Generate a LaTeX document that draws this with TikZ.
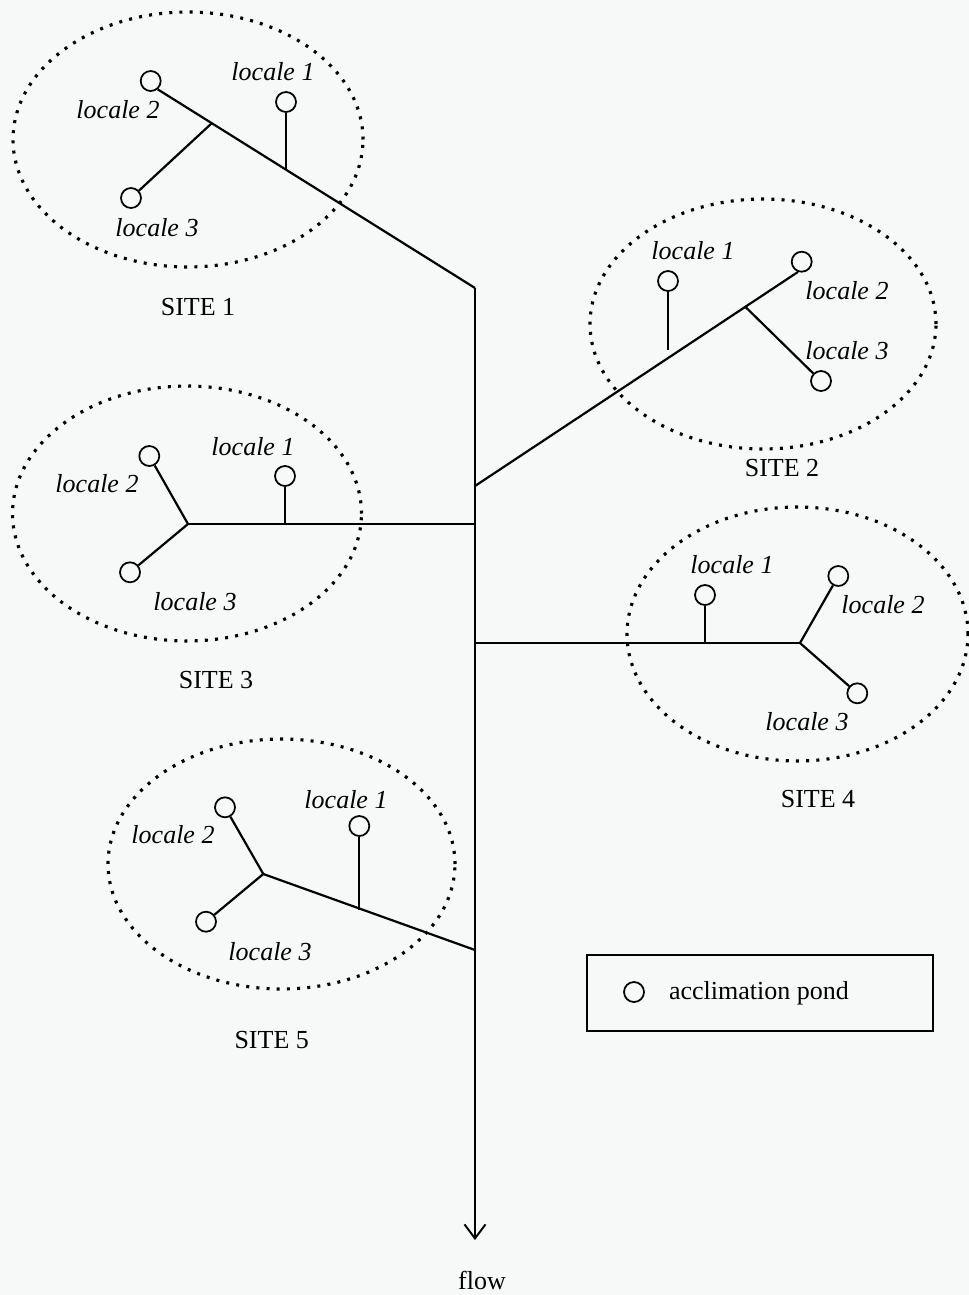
\documentclass[tikz,border=0pt]{standalone}
\usepackage{fontspec}
\setmainfont{Liberation Serif}
\usetikzlibrary{arrows.meta}
\definecolor{bgcol}{RGB}{247,249,248}
\begin{document}
\begin{tikzpicture}[x=0.02cm,y=-0.02cm,
  pipe/.style={line width=1.25pt},
  pond/.style={circle,draw,line width=1pt,minimum size=0.4cm,inner sep=0pt},
  loc/.style={font=\fontsize{14.8}{17}\selectfont\itshape,inner sep=0pt},
  sitelbl/.style={font=\fontsize{14.8}{17}\selectfont,inner sep=0pt},
  zone/.style={line width=1.8pt,dash pattern=on 1.7pt off 4.1pt}]
\fill[bgcol] (0,0) rectangle (969,1295);
\useasboundingbox (0,0) rectangle (969,1295);

% trunk
\coordinate (top) at (475,288);
\coordinate (j2) at (475,486);
\coordinate (j3) at (475,524);
\coordinate (j4) at (475,643);
\coordinate (j5) at (475,950);
\coordinate (tip) at (475,1240);
\draw[pipe,-{Straight Barb[length=8pt,width=12pt,line width=1.1pt]}] (top) -- (tip);
\node[sitelbl] (flow) at (482,1280) {flow};

% ---------- SITE 1
\draw[zone] (188,139.5) ellipse [x radius=3.5cm, y radius=2.55cm];
\node[pond] (s1a) at (286,102) {};
\node[pond] (s1b) at (150.7,81) {};
\node[pond] (s1c) at (131,198) {};
\coordinate (s1k1) at (286,169.5);
\coordinate (s1k2) at (212,123);
\draw[pipe] (s1b.-50) -- (top);
\draw[pipe] (s1a) -- (s1k1);
\draw[pipe] (s1c) -- (s1k2);
\node[loc] (s1l1) at (273,72) {locale 1};
\node[loc] (s1l2) at (118,110) {locale 2};
\node[loc] (s1l3) at (157,228) {locale 3};
\node[sitelbl] (site1) at (198,307) {SITE 1};

% ---------- SITE 2
\draw[zone] (763,324) ellipse [x radius=3.46cm, y radius=2.5cm];
\node[pond] (s2a) at (668,281) {};
\node[pond] (s2b) at (801.7,261.7) {};
\node[pond] (s2c) at (821,381) {};
\coordinate (s2k1) at (668,350);
\coordinate (s2k2) at (745,306.5);
\draw[pipe] (j2) -- (s2b.250);
\draw[pipe] (s2a) -- (s2k1);
\draw[pipe] (s2k2) -- (s2c);
\node[loc] (s2l1) at (693,251) {locale 1};
\node[loc] (s2l2) at (847,291) {locale 2};
\node[loc] (s2l3) at (847,351) {locale 3};
\node[sitelbl] (site2) at (782,468) {SITE 2};

% ---------- SITE 3
\draw[zone] (187,513.5) ellipse [x radius=3.49cm, y radius=2.55cm];
\node[pond] (s3a) at (285,476) {};
\node[pond] (s3b) at (149.3,456) {};
\node[pond] (s3c) at (130,572.3) {};
\coordinate (s3bp) at (188,524);
\coordinate (s3k1) at (285,524);
\draw[pipe] (j3) -- (s3bp);
\draw[pipe] (s3a) -- (s3k1);
\draw[pipe] (s3b) -- (s3bp) -- (s3c);
\node[loc] (s3l1) at (253,447) {locale 1};
\node[loc] (s3l2) at (97,484) {locale 2};
\node[loc] (s3l3) at (195,602) {locale 3};
\node[sitelbl] (site3) at (216,680) {SITE 3};

% ---------- SITE 4
\draw[zone] (797.5,634) ellipse [x radius=3.41cm, y radius=2.54cm];
\node[pond] (s4a) at (705,595) {};
\node[pond] (s4b) at (838.3,576) {};
\node[pond] (s4c) at (857.3,693.3) {};
\coordinate (s4bp) at (800,643);
\coordinate (s4k1) at (705,643);
\draw[pipe] (j4) -- (s4bp);
\draw[pipe] (s4a) -- (s4k1);
\draw[pipe] (s4b) -- (s4bp) -- (s4c);
\node[loc] (s4l1) at (732,565) {locale 1};
\node[loc] (s4l2) at (883,605) {locale 2};
\node[loc] (s4l3) at (807,722) {locale 3};
\node[sitelbl] (site4) at (818,799) {SITE 4};

% ---------- SITE 5
\draw[zone] (281.5,864) ellipse [x radius=3.47cm, y radius=2.5cm];
\node[pond] (s5a) at (359.3,826) {};
\node[pond] (s5b) at (225,807.3) {};
\node[pond] (s5c) at (206,921.7) {};
\coordinate (s5bp) at (263.3,874);
\coordinate (s5k1) at (359.3,909.5);
\draw[pipe] (j5) -- (s5bp);
\draw[pipe] (s5a) -- (s5k1);
\draw[pipe] (s5b) -- (s5bp) -- (s5c);
\node[loc] (s5l1) at (346,800) {locale 1};
\node[loc] (s5l2) at (173,835) {locale 2};
\node[loc] (s5l3) at (270,951.7) {locale 3};
\node[sitelbl] (site5) at (271.7,1040) {SITE 5};

% ---------- legend
\node[draw,line width=1.25pt,minimum width=6.92cm,minimum height=1.52cm,inner sep=0pt] (legend) at (760,993) {};
\node[pond] (legpond) at (634,992) {};
\node[sitelbl] (legtext) at (759,993) {acclimation pond};
\end{tikzpicture}
\end{document}
